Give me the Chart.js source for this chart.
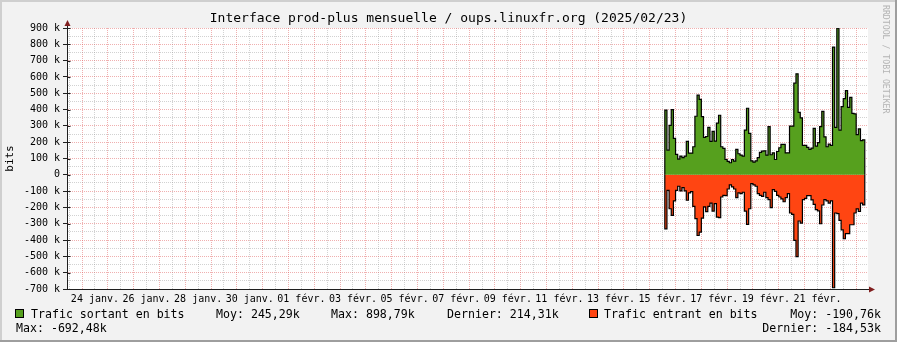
<!DOCTYPE html>
<html>
<head>
<meta charset="utf-8">
<script src="https://cdn.jsdelivr.net/npm/chart.js@4.4.1/dist/chart.umd.min.js"></script>
<style>
  html, body { margin: 0; padding: 0; background: #F2F2F2; }
  #wrap { position: relative; width: 897px; height: 342px; overflow: hidden;
          font-family: "DejaVu Sans Mono", monospace; color: #000; }
  #graph { position: absolute; left: 0; top: 0; }
  #title { position: absolute; left: 0; top: 10px; width: 897px; text-align: center;
           font-size: 13px; line-height: 16px; white-space: pre; }
  #mark { position: absolute; left: 881px; top: 5px; writing-mode: vertical-rl;
          font-size: 8.2px; line-height: 9px; color: #B4B4B4; white-space: pre; }
  .t { position: absolute; white-space: pre; font-size: 11.6px; line-height: 14px; }
  .r { text-align: right; }
  .box { position: absolute; width: 7px; height: 7px; border: 1px solid #000; }
</style>
</head>
<body>
<div id="wrap">
  <canvas id="graph" width="897" height="342"></canvas>
  <div id="title">Interface prod-plus mensuelle / oups.linuxfr.org (2025/02/23)</div>
  <div id="mark">RRDTOOL / TOBI OETIKER</div>

  <div class="box" style="left:15px; top:309px; background:#56A01E;"></div>
  <div class="t" style="left:31px; top:307px;">Trafic sortant en bits</div>
  <div class="t" style="left:216px; top:307px;">Moy: 245,29k</div>
  <div class="t" style="left:331px; top:307px;">Max: 898,79k</div>
  <div class="t" style="left:447px; top:307px;">Dernier: 214,31k</div>
  <div class="box" style="left:589px; top:309px; background:#FF4512;"></div>
  <div class="t" style="left:604px; top:307px;">Trafic entrant en bits</div>
  <div class="t r" style="right:16px; top:307px;">Moy: -190,76k</div>
  <div class="t" style="left:16px; top:321px;">Max: -692,48k</div>
  <div class="t r" style="right:16px; top:321px;">Dernier: -184,53k</div>
</div>
<script>
// heures depuis le 24 janv. 00:00
const startHour = 542;   // 15 févr. 14:00
const stepHours = 2;
const axisStart = -14;
const axisEnd = 731;

// valeurs en kbits
const sortant = [
  397, 151, 303, 400, 223, 125, 96, 115, 105, 115,
  205, 133, 133, 172, 359, 488, 463, 357, 229, 235,
  291, 205, 266, 207, 317, 365, 172, 162, 94, 82,
  74, 94, 84, 156, 129, 121, 115, 274, 408, 254,
  86, 78, 86, 105, 137, 145, 147, 121, 295, 123,
  135, 94, 143, 166, 186, 186, 135, 135, 299, 299,
  562, 619, 383, 349, 180, 180, 168, 156, 164, 285,
  176, 197, 295, 389, 233, 172, 188, 180, 783, 291,
  898.79, 274, 418, 467, 516, 414, 475, 377, 373, 246,
  281, 209, 214.31
];
const entrant = [
  -331, -95, -208, -249, -160, -95, -70, -99, -78, -99,
  -156, -111, -103, -193, -269, -372, -351, -265, -197, -226,
  -193, -173, -222, -177, -259, -263, -136, -126, -128, -87,
  -62, -74, -87, -140, -111, -115, -107, -222, -304, -208,
  -54, -62, -70, -115, -126, -132, -107, -140, -152, -201,
  -91, -101, -126, -136, -148, -165, -140, -115, -234, -242,
  -402, -501, -283, -296, -152, -144, -128, -128, -154, -181,
  -214, -221, -300, -185, -152, -160, -173, -160, -692.48, -234,
  -238, -279, -337, -392, -361, -361, -306, -306, -234, -209,
  -225, -173, -184.53
];

const xLabels = ['24 janv.', '26 janv.', '28 janv.', '30 janv.', '01 févr.', '03 févr.',
  '05 févr.', '07 févr.', '09 févr.', '11 févr.', '13 févr.', '15 févr.',
  '17 févr.', '19 févr.', '21 févr.'];
const yMin = -700;
const yMax = 900;

const MINOR = 'rgba(143,143,143,0.4)';
const MAJOR = 'rgba(222,79,79,0.45)';
const AXIS = '#1F1F1F';

function toPoints(values) {
  const pts = [{ x: startHour, y: 0 }];
  values.forEach((v, i) => pts.push({ x: startHour + i * stepHours, y: v }));
  const end = startHour + values.length * stepHours;
  pts.push({ x: end, y: values[values.length - 1] });
  pts.push({ x: end, y: 0 });
  return pts;
}

const decor = {
  id: 'decor',
  beforeDraw(chart) {
    const { ctx, chartArea: a, width, height } = chart;
    ctx.save();
    ctx.fillStyle = '#F2F2F2';
    ctx.fillRect(0, 0, width, height);
    ctx.fillStyle = '#FFFFFF';
    ctx.fillRect(a.left, a.top, a.right - a.left, a.bottom - a.top);
    ctx.fillStyle = '#CFCFCF';
    ctx.fillRect(0, 0, width, 2);
    ctx.fillRect(0, 0, 2, height);
    ctx.fillStyle = '#9E9E9E';
    ctx.fillRect(0, height - 2, width, 2);
    ctx.fillRect(width - 2, 0, 2, height);
    ctx.restore();
  },
  afterDraw(chart) {
    const { ctx, chartArea: a } = chart;
    const x0 = Math.round(a.left) + 0.5;
    const y0 = Math.round(a.bottom) + 0.5;
    ctx.save();
    ctx.strokeStyle = AXIS;
    ctx.lineWidth = 1;
    ctx.beginPath();
    ctx.moveTo(x0, a.top);
    ctx.lineTo(x0, a.top - 4);
    ctx.moveTo(a.right, y0);
    ctx.lineTo(a.right + 3, y0);
    // petites graduations a droite de l'axe vertical
    const ys = chart.scales.y;
    for (let v = yMin; v <= yMax; v += 100) {
      const py = Math.round(ys.getPixelForValue(v)) + 0.5;
      ctx.moveTo(x0, py);
      ctx.lineTo(x0 + 3, py);
    }
    ctx.stroke();
    ctx.fillStyle = '#801F1F';
    ctx.beginPath();
    ctx.moveTo(x0, a.top - 8);
    ctx.lineTo(x0 - 3, a.top - 2);
    ctx.lineTo(x0 + 3, a.top - 2);
    ctx.closePath();
    ctx.fill();
    ctx.beginPath();
    ctx.moveTo(a.right + 7, y0);
    ctx.lineTo(a.right + 1, y0 - 3);
    ctx.lineTo(a.right + 1, y0 + 3);
    ctx.closePath();
    ctx.fill();
    ctx.restore();
  }
};

new Chart(document.getElementById('graph'), {
  type: 'line',
  data: {
    datasets: [
      {
        label: 'Trafic sortant en bits',
        data: toPoints(sortant),
        stepped: true,
        fill: 'origin',
        backgroundColor: '#56A01E',
        borderColor: '#000000',
        borderWidth: 1.2,
        pointRadius: 0,
        pointHitRadius: 0
      },
      {
        label: 'Trafic entrant en bits',
        data: toPoints(entrant),
        stepped: true,
        fill: 'origin',
        backgroundColor: '#FF4512',
        borderColor: '#000000',
        borderWidth: 1.2,
        pointRadius: 0,
        pointHitRadius: 0
      }
    ]
  },
  options: {
    responsive: false,
    animation: false,
    devicePixelRatio: 1,
    layout: { padding: { left: 0, right: 29, top: 28, bottom: 33 } },
    plugins: {
      legend: { display: false },
      tooltip: { enabled: false },
      title: { display: false }
    },
    scales: {
      x: {
        type: 'linear',
        min: axisStart,
        max: axisEnd,
        afterFit: (s) => { s.height = 20; },
        afterBuildTicks: (s) => {
          const t = [];
          for (let h = -12; h <= 720; h += 12) t.push({ value: h });
          s.ticks = t;
        },
        grid: {
          color: (c) => (c.tick.value % 24 === 0 ? MAJOR : MINOR),
          tickColor: 'rgba(0,0,0,0)',
          tickLength: 3,
          lineWidth: 1
        },
        border: { color: AXIS, width: 1, dash: [1, 1] },
        ticks: {
          autoSkip: false,
          maxRotation: 0,
          minRotation: 0,
          padding: 1,
          color: '#000',
          font: { family: 'DejaVu Sans Mono', size: 10 },
          callback: (v) => {
            if ((v - 12) % 48 !== 0) return '';
            return xLabels[(v - 12) / 48] || '';
          }
        }
      },
      y: {
        min: yMin,
        max: yMax,
        afterFit: (s) => { s.width = 67; },
        afterBuildTicks: (s) => {
          const t = [];
          for (let v = yMin; v <= yMax; v += 50) t.push({ value: v });
          s.ticks = t;
        },
        title: {
          display: true,
          text: 'bits',
          color: '#000',
          padding: { top: 4, bottom: 0 },
          font: { family: 'DejaVu Sans Mono', size: 11 }
        },
        grid: {
          color: (c) => (c.tick.value % 100 === 0 ? MAJOR : MINOR),
          tickColor: (c) => (c.tick.value % 100 === 0 ? AXIS : 'rgba(0,0,0,0)'),
          tickLength: 4,
          lineWidth: 1
        },
        border: { color: AXIS, width: 1, dash: [1, 1] },
        ticks: {
          autoSkip: false,
          padding: 3,
          color: '#000',
          font: { family: 'DejaVu Sans Mono', size: 10 },
          callback: (v) => {
            if (v % 100 !== 0) return '';
            return v === 0 ? '0' : v + ' k';
          }
        }
      }
    }
  },
  plugins: [decor]
});
</script>
</body>
</html>
